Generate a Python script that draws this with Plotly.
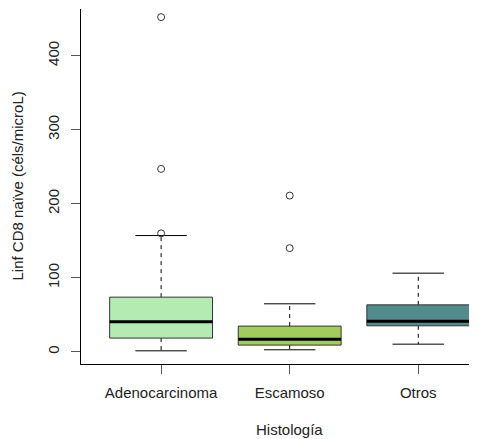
import plotly.graph_objects as go

categories = ["Adenocarcinoma", "Escamoso", "Otros"]
lower_whisker = [1.3, 2.7, 10.3]
q1 = [18.5, 9.0, 35.1]
median = [40.5, 17.0, 41.4]
q3 = [73.8, 34.7, 63.4]
upper_whisker = [157.0, 64.8, 106.2]
outliers = [[160.0, 247.0, 452.0], [140.0, 211.0], []]
fills = ["#b3ebb3", "#a2cd5a", "#528b8b"]

y_ticks = [0, 100, 200, 300, 400]

BOX_W = 0.8
CAP_W = 0.4
FONT = "Liberation Sans, Arial, sans-serif"

fig = go.Figure()
for i, cat in enumerate(categories):
    x = i + 1
    hw = BOX_W / 2
    cw = CAP_W / 2
    # dashed whiskers
    fig.add_trace(go.Scatter(x=[x, x, None, x, x],
                             y=[q3[i], upper_whisker[i], None, q1[i], lower_whisker[i]],
                             mode="lines", line=dict(color="#000", width=1, dash="4px,4px"),
                             hoverinfo="skip", showlegend=False))
    # caps
    fig.add_trace(go.Scatter(x=[x - cw, x + cw, None, x - cw, x + cw],
                             y=[upper_whisker[i], upper_whisker[i], None, lower_whisker[i], lower_whisker[i]],
                             mode="lines", line=dict(color="#000", width=1),
                             hoverinfo="skip", showlegend=False))
    # box
    fig.add_trace(go.Scatter(x=[x - hw, x + hw, x + hw, x - hw, x - hw],
                             y=[q1[i], q1[i], q3[i], q3[i], q1[i]],
                             mode="lines", fill="toself", fillcolor=fills[i],
                             line=dict(color="#333", width=1),
                             hoverinfo="skip", showlegend=False))
    # median
    fig.add_trace(go.Scatter(x=[x - hw, x + hw], y=[median[i], median[i]],
                             mode="lines", line=dict(color="#000", width=3),
                             hoverinfo="skip", showlegend=False))
    # outliers
    if outliers[i]:
        fig.add_trace(go.Scatter(x=[x] * len(outliers[i]), y=outliers[i],
                                 mode="markers",
                                 marker=dict(symbol="circle-open", size=7,
                                             color="#333", line=dict(width=1, color="#333")),
                                 hoverinfo="skip", showlegend=False))

fig.update_layout(
    width=477, height=439,
    margin=dict(l=73, r=0, t=1, b=83, autoexpand=False),
    paper_bgcolor="white", plot_bgcolor="white",
    font=dict(family=FONT, size=15, color="#222"),
    xaxis=dict(range=[0.377, 3.519], tickmode="array", tickvals=[1, 2, 3],
               ticktext=categories, showgrid=False, zeroline=False,
               showline=True, linecolor="#000", linewidth=1,
               ticks="outside", ticklen=9, tickcolor="#555", tickwidth=1,
               ticklabelstandoff=6, automargin=False),
    yaxis=dict(range=[-16.5, 463], tickmode="array", tickvals=y_ticks,
               ticktext=[str(v) for v in y_ticks], tickangle=-90,
               showgrid=False, zeroline=False,
               showline=True, linecolor="#000", linewidth=1,
               ticks="outside", ticklen=9, tickcolor="#555", tickwidth=1,
               ticklabelstandoff=6, automargin=False),
    annotations=[
        dict(text="Histología", x=2, xref="x", y=0, yref="paper",
             yshift=-65, xanchor="center", yanchor="middle", showarrow=False,
             font=dict(family=FONT, size=15, color="#222")),
        dict(text="Linf CD8 naïve (céls/microL)", x=0, xref="paper", y=0.5, yref="paper",
             xshift=-64, textangle=-90, xanchor="center", yanchor="middle", showarrow=False,
             font=dict(family=FONT, size=15, color="#222")),
    ],
)

fig.write_html("out.html")
